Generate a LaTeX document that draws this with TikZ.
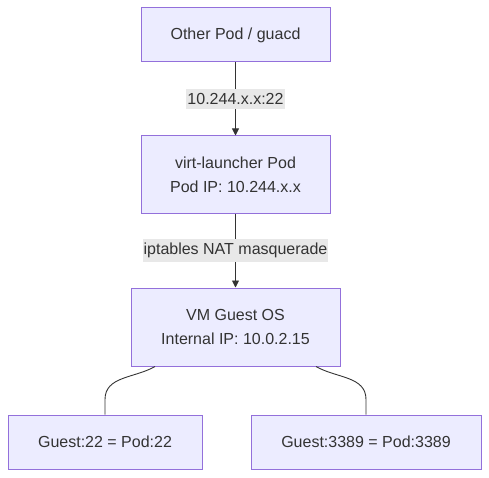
\documentclass[tikz,border=0pt]{standalone}
\usepackage{fontspec}
\setmainfont{Liberation Sans}
\usetikzlibrary{arrows.meta}
\definecolor{boxfill}{HTML}{ECECFF}
\definecolor{boxline}{HTML}{9370DB}
\definecolor{ink}{HTML}{333333}
\definecolor{lblfill}{HTML}{E8E8E8}
\begin{document}
\begin{tikzpicture}[x=1pt, y=-1pt, every node/.style={font=\fontsize{16}{24}\selectfont, text=ink},
  box/.style={draw=boxline, fill=boxfill, line width=1pt, inner sep=0pt, minimum height=54pt, align=center},
  lbl/.style={fill=lblfill, inner xsep=1pt, inner ysep=4pt},
  link/.style={draw=ink, line width=0.9pt},
  flow/.style={link, -{Triangle[length=7pt,width=7pt]}}]
\useasboundingbox (0,0) rectangle (489,478);
\node[box, minimum width=189pt] (pod) at (235.5,35) {Other Pod / guacd};
\node[box, minimum width=189pt, minimum height=77pt] (launcher) at (235.5,174.5) {virt-launcher Pod\\Pod IP: 10.244.x.x};
\node[box, minimum width=209pt, minimum height=78pt] (guest) at (235.5,327) {VM Guest OS\\Internal IP: 10.0.2.15};
\node[box, minimum width=194pt] (ssh) at (105,442) {Guest:22 = Pod:22};
\node[box, minimum width=230pt] (rdp) at (366,442) {Guest:3389 = Pod:3389};
\draw[flow] (pod) -- (launcher) node[midway, lbl] {10.244.x.x:22};
\draw[flow] (launcher) -- (guest) node[midway, lbl] {iptables NAT masquerade};
% port mappings
\draw[link] ([xshift=-80.5pt]guest.south) to[out=-150, in=90] ([yshift=15pt]ssh.north) -- (ssh.north);
\draw[link] ([xshift=80.5pt]guest.south) to[out=-30, in=90] ([yshift=15pt]rdp.north) -- (rdp.north);
\end{tikzpicture}
\end{document}
